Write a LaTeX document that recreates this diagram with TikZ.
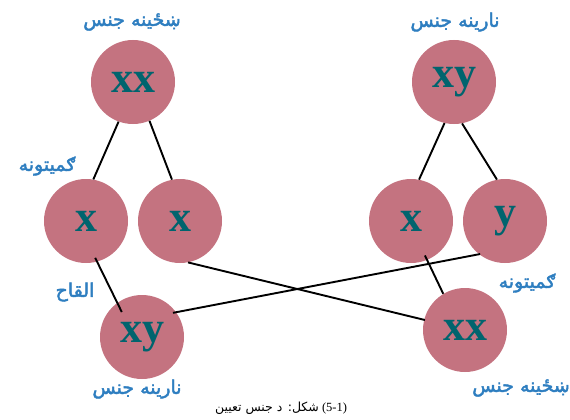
\documentclass[tikz,border=0pt]{standalone}
\usepackage{fontspec}
\setmainfont{Liberation Serif}
\newfontfamily\arabicfont[Script=Arabic]{DejaVu Sans}
\newfontfamily\arabicbold[Script=Arabic,FakeBold=2.2]{DejaVu Sans}
\TeXXeTstate=1
\usetikzlibrary{calc}
\definecolor{cellfill}{RGB}{196,115,128}
\definecolor{letterc}{RGB}{0,100,110}
\definecolor{labelc}{RGB}{46,126,192}
\tikzset{
  cell/.style={circle, fill=cellfill, minimum size=84pt, inner sep=0pt,
    font=\fontsize{44}{44}\selectfont\bfseries, text=letterc},
  lbl/.style={font=\arabicbold\fontsize{19}{21}\selectfont, text=labelc, inner sep=0pt},
  link/.style={line width=1.9pt, black},
  captext/.style={font=\fontsize{12.5}{14}\selectfont, inner sep=0pt}
}
\begin{document}
\begin{tikzpicture}[x=1pt,y=-1pt]
\useasboundingbox (0,0) rectangle (570,420);
% circles
\node[cell] (ftop) at (133,82) {xx};
\node[cell] (mtop) at (454,82) {xy};
\node[cell] (gl1) at (86,221) {x};
\node[cell] (gl2) at (180,221) {x};
\node[cell] (gr1) at (411,221) {x};
\node[cell] (gr2) at (505,221) {y};
\node[cell] (mbot) at (142,337) {xy};
\node[cell] (fbot) at (465,330) {xx};
% connectors
\draw[link] (ftop.-110) -- (gl1.80);
\draw[link] (ftop.-67) -- (gl2.101);
\draw[link] (mtop.-103) -- (gr1.79);
\draw[link] (mtop.-79) -- (gr2.101);
\draw[link] ($(gl1.center)!0.9!(gl1.-76)$) -- ($(mbot.center)!0.76!(mbot.129)$);
\draw[link] (gl2.-79) -- ($(fbot.center)!0.98!(fbot.166)$);
\draw[link] ($(gr2.center)!0.98!(gr2.-127)$) -- ($(mbot.center)!0.93!(mbot.38)$);
\draw[link] ($(gr1.center)!0.88!(gr1.-68)$) -- (fbot.121);
% labels
\node[lbl] (l1) at (132,22) {\beginR ښځینه جنس\endR};
\node[lbl] (l2) at (455,22) {\beginR نارینه جنس\endR};
\node[lbl] (l3) at (47,166) {\beginR ګمیتونه\endR};
\node[lbl] (l4) at (75,292) {\beginR القاح\endR};
\node[lbl] (l5) at (527,283) {\beginR ګمیتونه\endR};
\node[lbl] (l6) at (137,389) {\beginR نارینه جنس\endR};
\node[lbl] (l7) at (521,388) {\beginR ښځینه جنس\endR};
\node[captext] (caption) at (281,408) {{\arabicfont\beginR شکل: د جنس تعیین\endR} (5-1)};
\end{tikzpicture}
\end{document}
